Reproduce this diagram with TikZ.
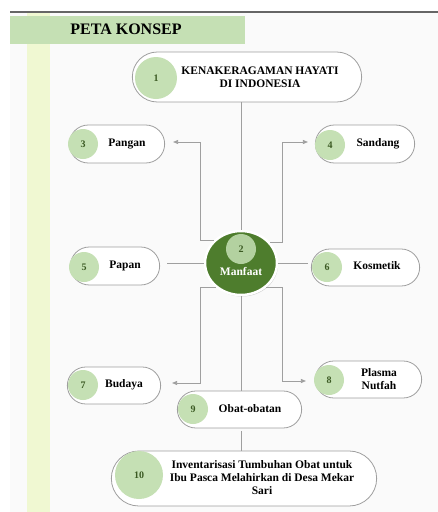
\documentclass[tikz,border=0pt]{standalone}
\usepackage{fontspec}
\setmainfont{Liberation Serif}
\usetikzlibrary{shapes.misc,shapes.geometric,arrows.meta,shadows}

\definecolor{leaf}{HTML}{C5E0B4}
\definecolor{forest}{HTML}{4E7D2D}
\definecolor{numgreen}{HTML}{3B5A23}
\definecolor{strip}{HTML}{F0F8D2}
\definecolor{paper}{HTML}{FAFAFA}

\begin{document}
\begin{tikzpicture}[x=1pt,y=-1pt,
      pill/.style={rounded rectangle, draw=gray!75, fill=white, thick},
      num/.style={circle, fill=leaf, minimum size=30pt, inner sep=0pt,
        font=\fontsize{10}{12}\selectfont\bfseries, text=numgreen},
      lbl/.style={font=\fontsize{11.5}{13}\selectfont\bfseries, align=center},
      link/.style={draw=gray!75, thick},
      arr/.style={link, -{Triangle[length=5pt,width=4pt]}}]

    \useasboundingbox (0,0) rectangle (438,512);

    % page background
    \fill[paper] (10,12) rectangle (438,512);
    \fill[strip] (27,12) rectangle (50,512);
    \draw[gray!80!black, line width=1.3pt] (10,12) -- (438,12);
    \fill[leaf] (10,16) rectangle (245,44);
    \node[font=\fontsize{16}{18}\selectfont\bfseries] (head) at (126,29) {PETA KONSEP};

    % top concept
    \node[pill, minimum width=236pt, minimum height=50pt] (top) at (247,77) {};
    \node[num, minimum size=42pt] (n1) at (156,78) {1};
    \node[lbl] (t1) at (260,77) {KENAKERAGAMAN HAYATI\\DI INDONESIA};

    % manfaat
    \node[ellipse, fill=forest, draw=white, line width=2.5pt,
      minimum width=72pt, minimum height=64pt,
      drop shadow={opacity=0.35, shadow xshift=1pt, shadow yshift=-1.5pt}] (man) at (241,263) {};
    \node[num, fill=leaf!85!forest] (n2) at (241,249) {2};
    \node[lbl, text=white] (t2) at (241,272) {Manfaat};

    % uses
    \node[pill, minimum width=102pt, minimum height=38pt] (pangan) at (117,144) {};
    \node[num] (n3) at (83,144) {3};
    \node[lbl] (t3) at (127,144) {Pangan};

    \node[pill, minimum width=106pt, minimum height=38pt] (sandang) at (365,144) {};
    \node[num] (n4) at (330,145) {4};
    \node[lbl] (t4) at (378,144) {Sandang};

    \node[pill, minimum width=96pt, minimum height=38pt] (papan) at (115,266) {};
    \node[num] (n5) at (84,267) {5};
    \node[lbl] (t5) at (125,266) {Papan};

    \node[pill, minimum width=115pt, minimum height=37pt] (kosmetik) at (365.5,267.5) {};
    \node[num] (n6) at (327,267) {6};
    \node[lbl] (t6) at (377,266) {Kosmetik};

    \node[pill, minimum width=100pt, minimum height=37pt] (budaya) at (114,385.5) {};
    \node[num] (n7) at (83,385) {7};
    \node[lbl] (t7) at (124,385) {Budaya};

    \node[pill, minimum width=113pt, minimum height=37pt] (plasma) at (368.5,379.5) {};
    \node[num] (n8) at (329,380) {8};
    \node[lbl] (t8) at (379,379) {Plasma\\Nutfah};

    \node[pill, minimum width=131pt, minimum height=37pt] (obat) at (239.5,409.5) {};
    \node[num] (n9) at (193,409) {9};
    \node[lbl] (t9) at (250,409) {Obat-obatan};

    \node[pill, minimum width=272pt, minimum height=55pt] (inv) at (244,478.5) {};
    \node[num, minimum size=48pt] (n10) at (139,475) {10};
    \node[lbl] (t10) at (262,478) {Inventarisasi Tumbuhan Obat untuk\\Ibu Pasca Melahirkan di Desa Mekar\\Sari};

    % bends
    \coordinate (k3) at (200,142);
    \coordinate (k4) at (282,142);
    \coordinate (k7) at (200,383);
    \coordinate (k8) at (282,381);

    \draw[link] (top.south -| man.north) -- (man.north);
    \draw[arr, shorten >=8pt] (man.140) -| (k3) -- (k3 -| pangan.east);
    \draw[arr, shorten >=7pt] (man.35) -| (k4) -- (k4 -| sandang.west);
    \draw[link, shorten >=7pt] (man.west) -- (man.west -| papan.east);
    \draw[link, shorten >=3pt] (man.east) -- (man.east -| kosmetik.west);
    \draw[arr, shorten >=11pt] (man.225) -| (k7) -- (k7 -| budaya.east);
    \draw[arr, shorten >=9pt] (man.315) -| (k8) -- (k8 -| plasma.west);
    \draw[link] (man.south) -- (man.south |- obat.north);
    \draw[link, shorten <=3pt] (man.south |- obat.south) -- (man.south |- inv.north);

  \end{tikzpicture}
\end{document}
